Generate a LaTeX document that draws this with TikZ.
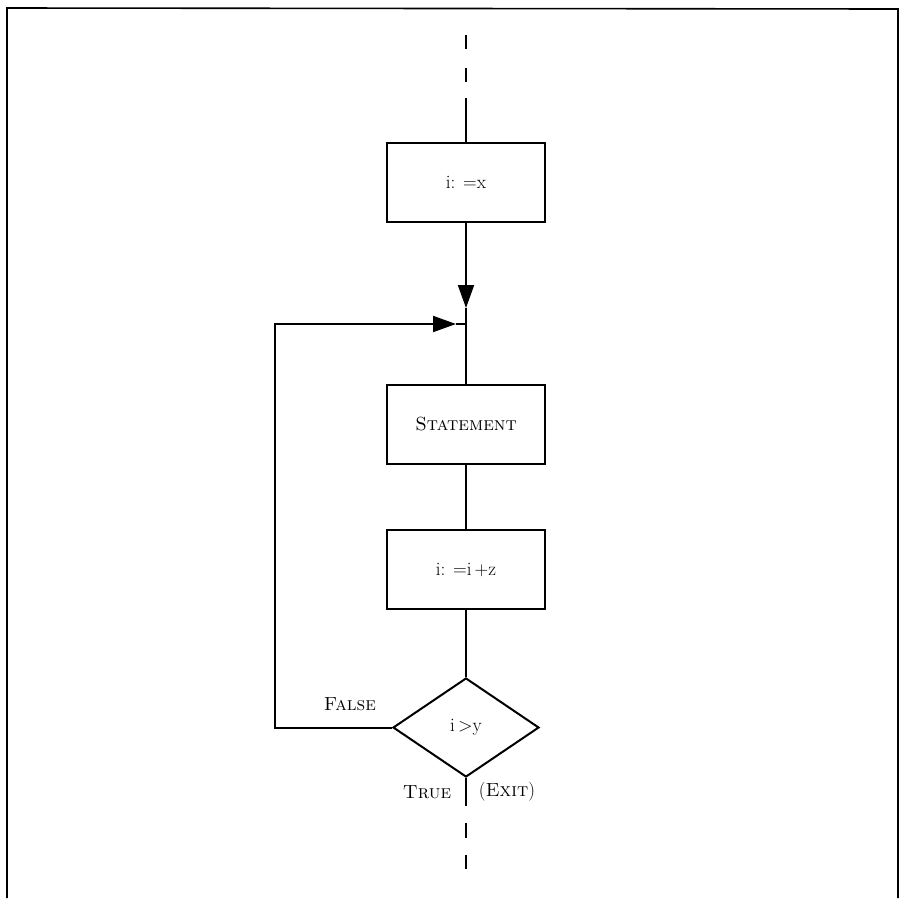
\documentclass[tikz,border=0pt]{standalone}
\usetikzlibrary{arrows.meta,shapes.geometric}
\begin{document}
\begin{tikzpicture}[x=1pt,y=-1pt,line width=2pt,
  procbox/.style={draw,rectangle,minimum width=158pt,minimum height=79pt,inner sep=0pt,font=\fontsize{19}{22}\selectfont},
  decbox/.style={draw,diamond,minimum width=146pt,minimum height=99pt,shape aspect=1.475,inner sep=0pt,font=\fontsize{19}{22}\selectfont},
  lbl/.style={font=\fontsize{19}{22}\selectfont,inner sep=0pt},
  tip/.style={-{Triangle[length=23pt,width=16pt]}},
  dashln/.style={line width=2.2pt}]
\useasboundingbox (0,0) rectangle (900,898);
% frame
\draw[line width=1.6pt] (7,898) -- (7,8) -- (898,9) -- (898,898);
% nodes
\node[procbox] (b1) at (466,182.5) {i: =x};
\node[procbox] (b2) at (466,424.5) {\textsc{Statement}};
\node[procbox] (b3) at (466,569.5) {i: =i\,+z};
\node[decbox] (d) at (466,727.5) {i\,>y};
\coordinate (j) at (466,324);
\coordinate (t1) at (466,308);
\coordinate (t2) at (456,324);
\coordinate (lc) at (275,727.5);
\coordinate (uc) at (275,324);
% top dashed entry
\coordinate (s0) at (466,35);
\coordinate (s1) at (466,49);
\coordinate (s2) at (466,68);
\coordinate (s3) at (466,82);
\coordinate (s4) at (466,98);
\draw[dashln] (s0) -- (s1);
\draw[dashln] (s2) -- (s3);
\draw (s4) -- (b1.north);
% main flow
\draw[tip] (b1.south) -- (t1);
\draw (t1) -- (j) -- (b2.north);
\draw (b2.south) -- (b3.north);
\draw (b3.south) -- (d.north);
% loop back
\draw[tip] (d.west) -- (lc) -- (uc) -- (t2);
\draw (t2) -- (j);
% exit
\coordinate (e1) at (466,806);
\coordinate (e2) at (466,823);
\coordinate (e3) at (466,838);
\coordinate (e4) at (466,855);
\coordinate (e5) at (466,869);
\draw (d.south) -- (e1);
\draw[dashln] (e2) -- (e3);
\draw[dashln] (e4) -- (e5);
% labels
\node[lbl] (lf) at (350,704) {\textsc{False}};
\node[lbl] (lt) at (427,792) {\textsc{True}};
\node[lbl] (lx) at (507,792) {(\textsc{Exit})};
\end{tikzpicture}
\end{document}
